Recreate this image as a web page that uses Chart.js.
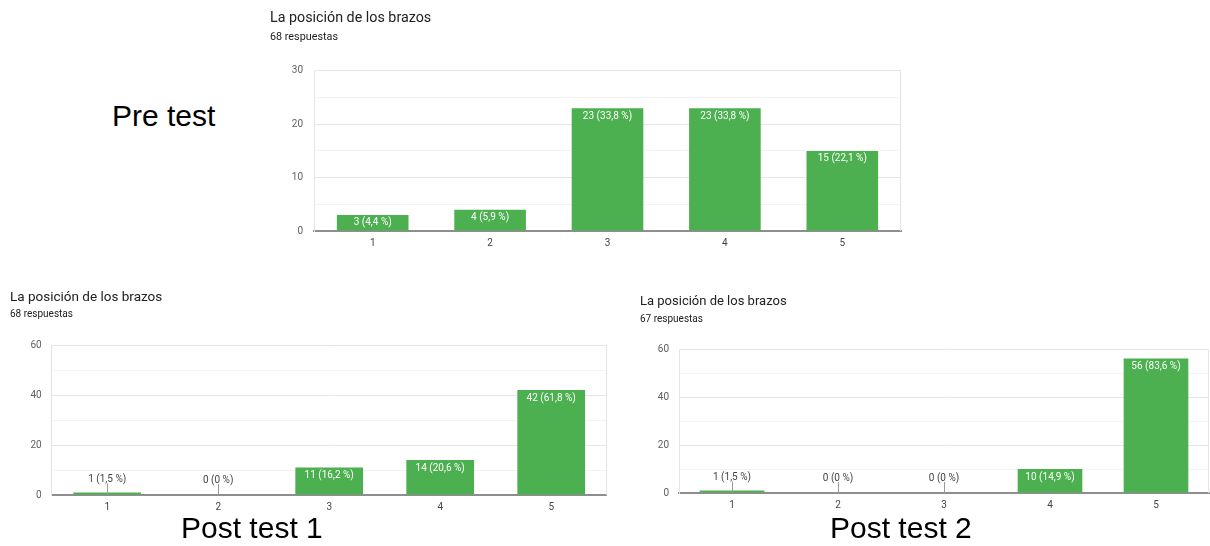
<!DOCTYPE html>
<html><head><meta charset="utf-8">
<script src="https://cdn.jsdelivr.net/npm/chart.js@4.4.1/dist/chart.umd.min.js"></script>
<style>
html,body{margin:0;padding:0;background:#fff;}
body{width:1210px;height:546px;overflow:hidden;position:relative;font-family:Roboto,sans-serif}
.big{position:absolute;font-family:"Liberation Sans",Arial,sans-serif;font-size:30px;line-height:30px;color:#000;white-space:nowrap;z-index:2}
canvas{position:absolute;z-index:1}
</style></head><body>
<canvas id="c1" width="650" height="260" style="left:270px;top:0px"></canvas>
<canvas id="c2" width="620" height="240" style="left:10px;top:280px"></canvas>
<canvas id="c3" width="570" height="235" style="left:640px;top:285px"></canvas>
<div class="big" style="left:112px;top:101px">Pre test</div>
<div class="big" style="left:181px;top:513px">Post test 1</div>
<div class="big" style="left:830px;top:513px">Post test 2</div>
<script>
// ---- data ----
const categories = ['1', '2', '3', '4', '5'];
const chartTitle = 'La posición de los brazos';

const preSubtitle = '68 respuestas';
const preValues = [3, 4, 23, 23, 15];
const prePct = ['4,4', '5,9', '33,8', '33,8', '22,1'];
const preYTicks = [0, 10, 20, 30];

const post1Subtitle = '68 respuestas';
const post1Values = [1, 0, 11, 14, 42];
const post1Pct = ['1,5', '0', '16,2', '20,6', '61,8'];
const post1YTicks = [0, 20, 40, 60];

const post2Subtitle = '67 respuestas';
const post2Values = [1, 0, 0, 10, 56];
const post2Pct = ['1,5', '0', '0', '14,9', '83,6'];
const post2YTicks = [0, 20, 40, 60];

// ---- plugins ----
const barLabels = {
  id: 'barLabels',
  afterDatasetsDraw(chart, args, opts) {
    const ctx = chart.ctx;
    const meta = chart.getDatasetMeta(0);
    const vals = chart.data.datasets[0].data;
    ctx.save();
    ctx.font = opts.size + 'px Roboto';
    ctx.textAlign = 'center';
    ctx.textBaseline = 'middle';
    meta.data.forEach((bar, i) => {
      const txt = vals[i] + ' (' + opts.pcts[i] + ' %)';
      const h = bar.base - bar.y;
      if (h >= 14) {
        ctx.fillStyle = '#ffffff';
        ctx.fillText(txt, bar.x, bar.y + 8);
      } else {
        const lx = Math.round(bar.x) + 0.5;
        ctx.strokeStyle = '#9a9a9a';
        ctx.lineWidth = 1;
        ctx.beginPath();
        ctx.moveTo(lx, bar.base - 11);
        ctx.lineTo(lx, bar.base);
        ctx.stroke();
        ctx.fillStyle = '#444444';
        ctx.fillText(txt, bar.x, bar.base - 15);
      }
    });
    ctx.restore();
  }
};
const rightFrame = {
  id: 'rightFrame',
  beforeDatasetsDraw(chart) {
    const {ctx, chartArea} = chart;
    ctx.save();
    ctx.strokeStyle = '#e4e4e4';
    ctx.lineWidth = 1;
    const x = Math.round(chartArea.right) - 0.5;
    ctx.beginPath();
    ctx.moveTo(x, chartArea.top);
    ctx.lineTo(x, chartArea.bottom);
    ctx.stroke();
    ctx.restore();
  }
};

function makeChart(id, values, pcts, subtitle, yTicks, step, cfg) {
  const yMax = yTicks[yTicks.length - 1];
  const major = yTicks[1] - yTicks[0];
  return new Chart(document.getElementById(id), {
    type: 'bar',
    data: {
      labels: categories,
      datasets: [{
        data: values,
        backgroundColor: '#4caf50',
        borderWidth: 0,
        barPercentage: 0.61,
        categoryPercentage: 1
      }]
    },
    options: {
      responsive: false,
      devicePixelRatio: 1,
      animation: false,
      layout: { padding: { left: 0, right: cfg.padR, top: 0, bottom: 0 } },
      plugins: {
        legend: { display: false },
        tooltip: { enabled: false },
        title: {
          display: true, text: chartTitle, align: 'start',
          color: '#202124', font: { family: 'Roboto', size: cfg.tSize, weight: 'normal' },
          padding: { top: cfg.tTop, bottom: cfg.tBot }
        },
        subtitle: {
          display: true, text: subtitle, align: 'start',
          color: '#202124', font: { family: 'Roboto', size: cfg.sSize, weight: 'normal' },
          padding: { top: 0, bottom: cfg.sBot }
        },
        barLabels: { pcts: pcts, size: cfg.lab }
      },
      scales: {
        x: {
          grid: { display: false, drawTicks: false },
          border: { display: true, color: '#8e8e8e', width: 2 },
          ticks: { color: '#444', font: { family: 'Roboto', size: 10 }, padding: 6 },
          afterFit: s => { s.height = cfg.xh; }
        },
        y: {
          min: 0, max: yMax,
          grid: {
            drawTicks: false,
            color: c => (c.tick.value % major === 0 ? '#e6e6e6' : '#f3f3f3'),
            lineWidth: 1
          },
          border: { display: true, color: '#e4e4e4', width: 1 },
          ticks: {
            stepSize: step, autoSkip: false, padding: cfg.yPad,
            color: '#5f5f5f', font: { family: 'Roboto', size: 10 },
            callback: v => (yTicks.includes(v) ? String(v) : '')
          },
          afterFit: s => { s.width = cfg.yw; }
        }
      }
    },
    plugins: [rightFrame, barLabels]
  });
}

makeChart('c1', preValues, prePct, preSubtitle, preYTicks, 5,
  { padR: 19, tSize: 14.3, tTop: 10.2, tBot: 3.1, sSize: 10.8, sBot: 27.5, xh: 29, yw: 44, yPad: 11, lab: 10 });
makeChart('c2', post1Values, post1Pct, post1Subtitle, post1YTicks, 10,
  { padR: 23.3, tSize: 13.5, tTop: 9.9, tBot: 1.9, sSize: 10, sBot: 25, xh: 25, yw: 41.7, yPad: 10, lab: 10 });
makeChart('c3', post2Values, post2Pct, post2Subtitle, post2YTicks, 10,
  { padR: 1, tSize: 13, tTop: 9.2, tBot: 3.2, sSize: 10, sBot: 24, xh: 27, yw: 39, yPad: 10, lab: 10 });
</script>
</body></html>
